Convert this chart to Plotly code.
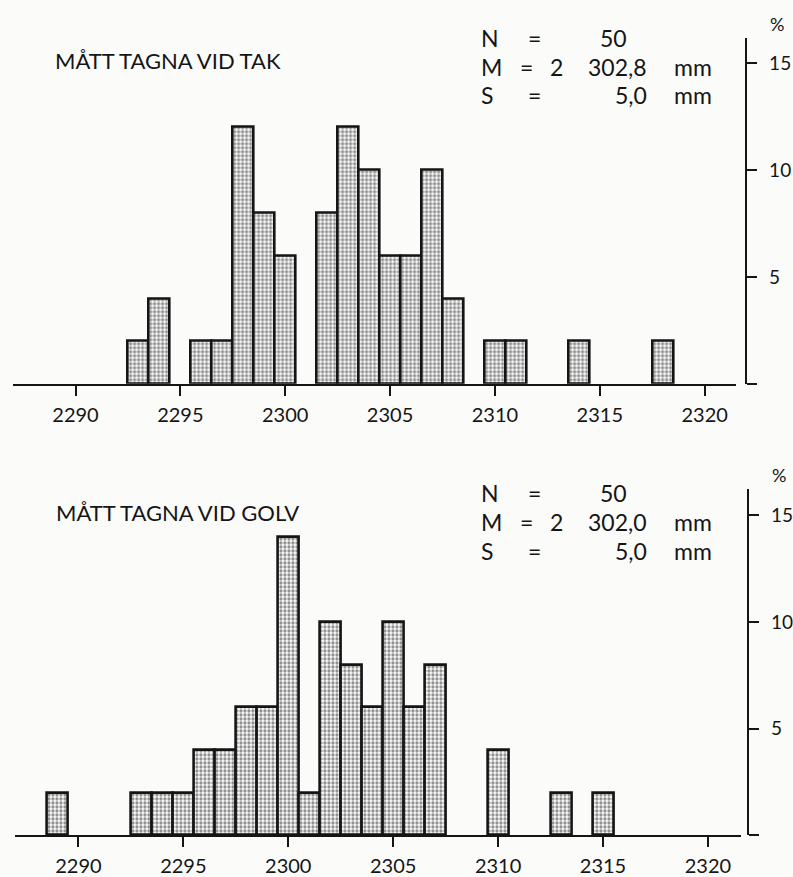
import plotly.graph_objects as go

# Measurements taken at the ceiling (TAK): length in mm, share of readings in %
tak_mm = [2293, 2294, 2296, 2297, 2298, 2299, 2300, 2302, 2303, 2304,
          2305, 2306, 2307, 2308, 2310, 2311, 2314, 2318]
tak_pct = [2, 4, 2, 2, 12, 8, 6, 8, 12, 10,
           6, 6, 10, 4, 2, 2, 2, 2]

# Measurements taken at the floor (GOLV)
golv_mm = [2289, 2293, 2294, 2295, 2296, 2297, 2298, 2299, 2300, 2301,
           2302, 2303, 2304, 2305, 2306, 2307, 2310, 2313, 2315]
golv_pct = [2, 2, 2, 2, 4, 4, 6, 6, 14, 2,
            10, 8, 6, 10, 6, 8, 4, 2, 2]

x_tickvals = [2290, 2295, 2300, 2305, 2310, 2315, 2320]
y_tickvals = [0, 5, 10, 15]
y_ticktext = ["", "5", "10", "15"]

titles = ["MÅTT TAGNA VID TAK", "MÅTT TAGNA VID GOLV"]
n_text = "50"
m_text_tak = ["2", "302,8"]
m_text_golv = ["2", "302,0"]
s_text = "5,0"
unit = "mm"

W, H = 793, 877
FONT = "Lato, 'Open Sans', sans-serif"
INK = "#151515"
PAPER = "#fbfbfa"


def px(x):
    return x / W


def py(y):
    return 1 - y / H


bar_marker = dict(
    color="white",
    line=dict(color=INK, width=2.6),
    pattern=dict(shape=".", fgcolor="#1a1a1a", bgcolor="white",
                 size=4, solidity=0.52),
)

fig = go.Figure()
fig.add_trace(go.Bar(x=tak_mm, y=tak_pct, width=1, xaxis="x", yaxis="y",
                     marker=bar_marker, hoverinfo="x+y"))
fig.add_trace(go.Bar(x=golv_mm, y=golv_pct, width=1, xaxis="x2", yaxis="y2",
                     marker=bar_marker, hoverinfo="x+y"))

common_x = dict(
    showline=True, linewidth=2, linecolor=INK,
    ticks="outside", ticklen=10, tickwidth=2, tickcolor=INK,
    tickvals=x_tickvals, tickfont=dict(family=FONT, size=20, color=INK),
    showgrid=False, zeroline=False, fixedrange=True, ticklabelstandoff=2,
)
common_y = dict(
    showline=True, linewidth=2, linecolor=INK, side="right", anchor="free",
    ticks="outside", ticklen=10, tickwidth=2, tickcolor=INK,
    tickvals=y_tickvals, ticktext=y_ticktext,
    tickfont=dict(family=FONT, size=19, color=INK),
    showgrid=False, zeroline=False, fixedrange=True, ticklabelstandoff=8,
)

fig.update_layout(
    width=W, height=H,
    margin=dict(l=0, r=0, t=0, b=0),
    paper_bgcolor=PAPER, plot_bgcolor="rgba(0,0,0,0)",
    showlegend=False, bargap=0,
    xaxis=dict(common_x, domain=[px(12.7), px(741.7)],
               range=[2287.0, 2321.5], anchor="y"),
    yaxis=dict(common_y, domain=[py(386), py(38)],
               range=[0, (386 - 38) / 21.5], position=px(752)),
    xaxis2=dict(common_x, domain=[px(15), px(746.7)],
                range=[2286.97, 2321.58], anchor="y2"),
    yaxis2=dict(common_y, domain=[py(840), py(491.7)],
                range=[0, (840 - 491.7) / 21.45], position=px(754)),
)

annotations = []


def add_text(text, x, y, xanchor, size, yanchor="middle"):
    annotations.append(dict(
        text=text, x=px(x), y=py(y), xref="paper", yref="paper",
        xanchor=xanchor, yanchor=yanchor, showarrow=False, borderpad=0,
        font=dict(family=FONT, size=size, color=INK),
    ))


# panel titles
add_text(titles[0], 54, 61, "left", 22)
add_text(titles[1], 55, 515, "left", 22)

# percent unit above each right axis
add_text("%", 775, 24, "left", 18)
add_text("%", 777, 478, "left", 18)

# summary statistics blocks
ST = 23
for m_parts, (yn, ym, ys) in ((m_text_tak, (38, 67, 96)),
                              (m_text_golv, (496, 525, 554))):
    # N row
    add_text("N", 484, yn, "left", ST)
    add_text("=", 539, yn, "center", ST)
    add_text(n_text, 633, yn, "right", ST)
    # M row
    add_text("M", 484, ym, "left", ST)
    add_text("=", 531, ym, "center", ST)
    add_text(m_parts[0], 561, ym, "center", ST)
    add_text(m_parts[1], 653, ym, "right", ST)
    add_text(unit, 718, ym, "right", ST)
    # S row
    add_text("S", 484, ys, "left", ST)
    add_text("=", 539, ys, "center", ST)
    add_text(s_text, 653, ys, "right", ST)
    add_text(unit, 718, ys, "right", ST)

fig.update_layout(annotations=annotations)

fig.write_html("out.html")
